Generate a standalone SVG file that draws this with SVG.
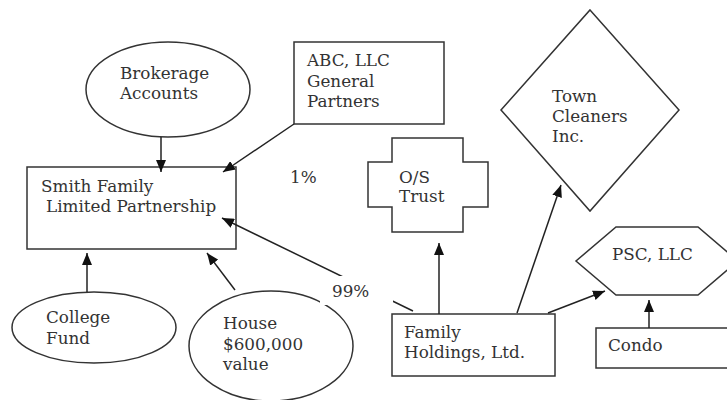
<svg xmlns="http://www.w3.org/2000/svg" width="727" height="400" viewBox="0 0 727 400">
<defs>
<marker id="ah" viewBox="0 0 12 10" refX="12" refY="5" markerWidth="12" markerHeight="10" markerUnits="userSpaceOnUse" orient="auto">
<path d="M0,0 L12,5 L0,10 z" fill="#111"/>
</marker>
<style>
.s{fill:#fff;stroke:#333;stroke-width:1.5}
.t{font-family:"DejaVu Serif","Liberation Serif",serif;font-size:16.8px;fill:#333}
.c{fill:none;stroke:#222;stroke-width:1.5;marker-end:url(#ah)}
.l{fill:none;stroke:#222;stroke-width:1.5}
</style>
</defs>
<rect width="727" height="400" fill="#fff"/>
<g id="brokerage"><ellipse class="s" cx="168" cy="89.5" rx="82" ry="47.5"/><text class="t" x="120" y="79">Brokerage</text><text class="t" x="120" y="99">Accounts</text></g>
<g id="abc"><rect class="s" x="294" y="42" width="150" height="82"/><text class="t" x="307" y="66">ABC, LLC</text><text class="t" x="307" y="87">General</text><text class="t" x="307" y="107">Partners</text></g>
<g id="smith"><rect class="s" x="27" y="167" width="209" height="82"/><text class="t" x="41" y="192">Smith Family</text><text class="t" x="46" y="212">Limited Partnership</text></g>
<g id="trust"><path class="s" d="M392,138 H463 V162 H488 V207 H463 V232 H392 V207 H368 V162 H392 Z"/><text class="t" x="399" y="183">O/S</text><text class="t" x="399" y="202">Trust</text></g>
<g id="town"><path class="s" d="M590,10 L679,110 L590,211 L501,110 Z"/><text class="t" x="552" y="102">Town</text><text class="t" x="552" y="122">Cleaners</text><text class="t" x="552" y="142">Inc.</text></g>
<g id="psc"><path class="s" d="M616,227 H698 L738,261 L698,295 H616 L576,261 Z"/><text class="t" x="612" y="260">PSC, LLC</text></g>
<g id="condo"><rect class="s" x="596" y="328" width="140" height="40"/><text class="t" x="608" y="351">Condo</text></g>
<g id="college"><ellipse class="s" cx="94" cy="327.5" rx="82" ry="35.5"/><text class="t" x="46" y="323">College</text><text class="t" x="46" y="344">Fund</text></g>
<g id="house"><ellipse class="s" cx="271" cy="346" rx="82" ry="55"/><text class="t" x="223" y="329">House</text><text class="t" x="223" y="350">$600,000</text><text class="t" x="223" y="370">value</text></g>
<g id="family"><rect class="s" x="392" y="314" width="163" height="62"/><text class="t" x="404" y="338">Family</text><text class="t" x="404" y="358">Holdings, Ltd.</text></g>
<g id="connectors">
<path class="c" d="M161,137 V172"/>
<path class="c" d="M294,124 L223,172"/>
<path class="c" d="M87,292 V253"/>
<path class="c" d="M235,290 L207,253"/>
<path class="c" d="M413,311 L222,218"/>
<path class="c" d="M439,314 V243"/>
<path class="c" d="M517,313 L561,185"/>
<path class="c" d="M548,313 L605,291"/>
<path class="c" d="M649,328 V300"/>
</g>
<g id="labels">
<text class="t" x="290" y="183">1%</text>
<rect x="320" y="276" width="73" height="29" fill="#fff"/>
<text class="t" x="332" y="297">99%</text>
</g>
</svg>
